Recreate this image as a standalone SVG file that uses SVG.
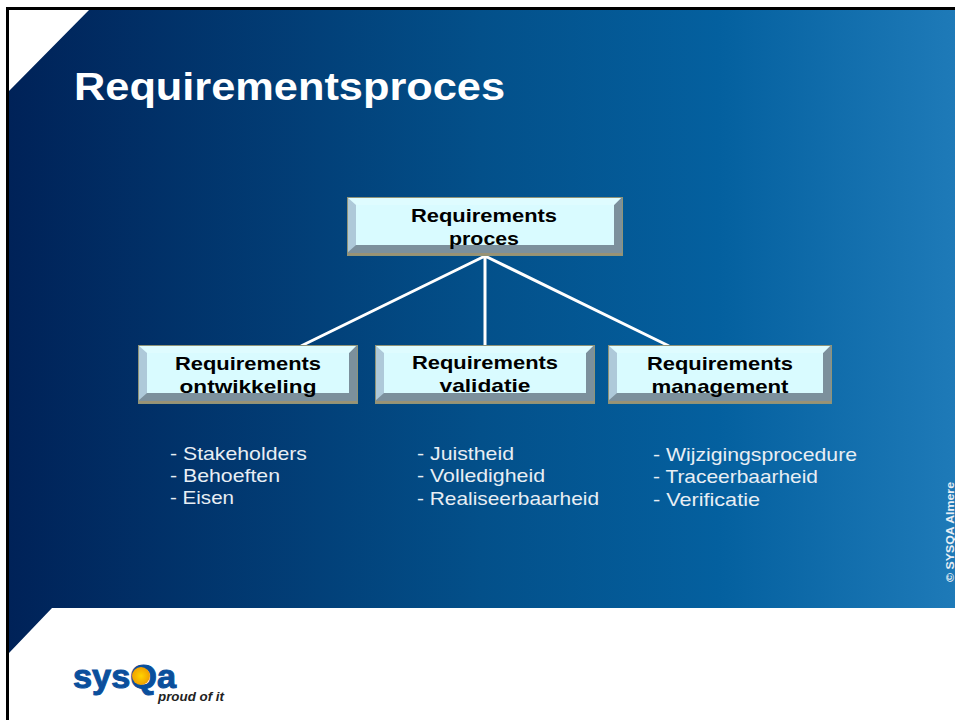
<svg xmlns="http://www.w3.org/2000/svg" width="955" height="720" viewBox="0 0 955 720">
<style>
text{font-family:"Liberation Sans",Arial,sans-serif}
.t{font-size:19px;font-weight:bold;fill:#000;text-anchor:middle}
.l{font-size:18.500px;fill:#e8eef4}
.f{fill:#d9fbff}
.c{stroke:#fff;stroke-width:3;fill:none}
.o{fill:none;stroke:#8f9478;stroke-width:1}
</style>
<defs>
<linearGradient id="bg" x1="0" y1="0" x2="1" y2="0">
<stop offset="0" stop-color="#002258"/><stop offset="0.5" stop-color="#03508a"/><stop offset="0.75" stop-color="#04609f"/><stop offset="1" stop-color="#1e7ab8"/>
</linearGradient>
<radialGradient id="sun"><stop offset="0" stop-color="#ffd400"/><stop offset="1" stop-color="#f2a000"/></radialGradient>
</defs>
<rect width="955" height="720" fill="#fff"/>
<path id="background" d="M90 9H955V608H52L9 653V91Z" fill="url(#bg)"/>
<path d="M7.500 720V8.500H955" fill="none" stroke="#000" stroke-width="3"/>
<text x="74" y="100" font-size="38" font-weight="bold" fill="#fff" textLength="431" lengthAdjust="spacingAndGlyphs">Requirementsproces</text>
<g id="connectors">
<path class="c" d="M485 256L301 346M485 256V346M485 256L669 346"/>
</g>
<g id="node-proces">
<rect x="347" y="197" width="276" height="59" fill="#9a9274"/>
<rect x="347" y="197" width="275" height="56" fill="#7c909c"/>
<path d="M347 197H622L614 205H356V245L347 253Z" fill="#aec9d9"/>
<path d="M347 197H622L614 205H356Z" fill="#dffcff"/>
<rect class="f" x="356" y="205" width="258" height="40"/>
<rect class="o" x="347.500" y="197.500" width="275" height="58"/>
<text class="t" x="484" y="222" textLength="146" lengthAdjust="spacingAndGlyphs">Requirements</text>
<text class="t" x="484" y="245" textLength="70" lengthAdjust="spacingAndGlyphs">proces</text>
</g>
<g id="node-ontwikkeling">
<rect x="138" y="345" width="220" height="59" fill="#9a9274"/>
<rect x="138" y="345" width="219" height="56" fill="#7c909c"/>
<path d="M138 345H357L349 353H147V393L138 401Z" fill="#aec9d9"/>
<path d="M138 345H357L349 353H147Z" fill="#dffcff"/>
<rect class="f" x="147" y="353" width="202" height="40"/>
<rect class="o" x="138.500" y="345.500" width="219" height="58"/>
<text class="t" x="248" y="370" textLength="146" lengthAdjust="spacingAndGlyphs">Requirements</text>
<text class="t" x="248" y="393" textLength="137" lengthAdjust="spacingAndGlyphs">ontwikkeling</text>
</g>
<g id="node-validatie">
<rect x="375" y="345" width="220" height="59" fill="#9a9274"/>
<rect x="375" y="345" width="219" height="56" fill="#7c909c"/>
<path d="M375 345H594L586 353H384V393L375 401Z" fill="#aec9d9"/>
<path d="M375 345H594L586 353H384Z" fill="#dffcff"/>
<rect class="f" x="384" y="353" width="202" height="40"/>
<rect class="o" x="375.500" y="345.500" width="219" height="58"/>
<text class="t" x="485" y="369" textLength="146" lengthAdjust="spacingAndGlyphs">Requirements</text>
<text class="t" x="485" y="392" textLength="91" lengthAdjust="spacingAndGlyphs">validatie</text>
</g>
<g id="node-management">
<rect x="608" y="345" width="224" height="59" fill="#9a9274"/>
<rect x="608" y="345" width="223" height="56" fill="#7c909c"/>
<path d="M608 345H831L823 353H617V393L608 401Z" fill="#aec9d9"/>
<path d="M608 345H831L823 353H617Z" fill="#dffcff"/>
<rect class="f" x="617" y="353" width="206" height="40"/>
<rect class="o" x="608.500" y="345.500" width="223" height="58"/>
<text class="t" x="720" y="370" textLength="146" lengthAdjust="spacingAndGlyphs">Requirements</text>
<text class="t" x="720" y="393" textLength="137" lengthAdjust="spacingAndGlyphs">management</text>
</g>
<g id="list-1">
<text class="l" x="170" y="460" textLength="137" lengthAdjust="spacingAndGlyphs">- Stakeholders</text>
<text class="l" x="170" y="482" textLength="110" lengthAdjust="spacingAndGlyphs">- Behoeften</text>
<text class="l" x="170" y="504" textLength="64" lengthAdjust="spacingAndGlyphs">- Eisen</text>
</g>
<g id="list-2">
<text class="l" x="417" y="460" textLength="97" lengthAdjust="spacingAndGlyphs">- Juistheid</text>
<text class="l" x="417" y="482" textLength="128" lengthAdjust="spacingAndGlyphs">- Volledigheid</text>
<text class="l" x="417" y="505" textLength="182" lengthAdjust="spacingAndGlyphs">- Realiseerbaarheid</text>
</g>
<g id="list-3">
<text class="l" x="653" y="461" textLength="204" lengthAdjust="spacingAndGlyphs">- Wijzigingsprocedure</text>
<text class="l" x="653" y="483" textLength="165" lengthAdjust="spacingAndGlyphs">- Traceerbaarheid</text>
<text class="l" x="653" y="506" textLength="107" lengthAdjust="spacingAndGlyphs">- Verificatie</text>
</g>
<text transform="translate(954 582) rotate(-90)" font-size="11" font-weight="bold" fill="#e8eef4" textLength="100" lengthAdjust="spacingAndGlyphs">© SYSQA Almere</text>
<g id="logo">
<text x="73" y="688" font-size="33" font-weight="bold" fill="#0a4f9c" stroke="#0a4f9c" stroke-width="1" textLength="103" lengthAdjust="spacingAndGlyphs">sysQa</text>
<circle cx="141" cy="676" r="9" fill="url(#sun)"/>
<text x="158" y="701" font-size="13" font-style="italic" font-weight="bold" fill="#222" textLength="66" lengthAdjust="spacingAndGlyphs">proud of it</text>
</g>
</svg>
